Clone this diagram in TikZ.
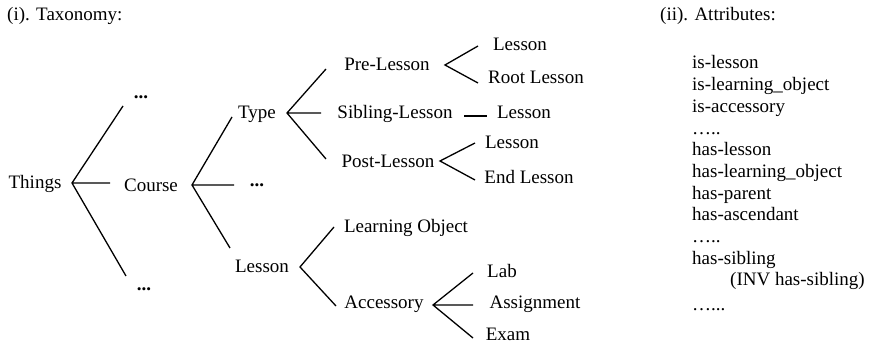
\documentclass[tikz,border=0pt]{standalone}
\usepackage{fontspec}
\setmainfont{Liberation Serif}
\begin{document}
\begin{tikzpicture}[x=1pt,y=-1pt,
  lbl/.style={inner sep=0pt,anchor=base,font=\fontsize{19}{21.7}\selectfont},
  lblw/.style={inner sep=0pt,anchor=base west,font=\fontsize{19}{21.7}\selectfont},
  dts/.style={inner sep=0pt,anchor=base,font=\fontsize{19}{21.7}\selectfont\bfseries},
  br/.style={line width=1.3pt,line cap=butt}]
\useasboundingbox (0,0) rectangle (873,344);
% titles
\node[lblw] (t1) at (7,21) {(i). Taxonomy:};
\node[lblw] (t2) at (660,21) {(ii). Attributes:};
% tree nodes
\node[lbl] (things) at (35,189) {Things};
\node[dts] (dA) at (141,99) {...};
\node[lbl] (course) at (151,192) {Course};
\node[dts] (dB) at (144,291) {...};
\node[lbl] (type) at (257,119) {Type};
\node[dts] (dC) at (257,187) {...};
\node[lbl] (lesson) at (262,273) {Lesson};
\node[lbl] (pre) at (387,71) {Pre-Lesson};
\node[lbl] (sib) at (395,119) {Sibling-Lesson};
\node[lbl] (post) at (388,168) {Post-Lesson};
\node[lbl] (l1) at (520,51) {Lesson};
\node[lbl] (root) at (536,84) {Root Lesson};
\node[lbl] (l2) at (524,119) {Lesson};
\node[lbl] (l3) at (512,149) {Lesson};
\node[lbl] (endl) at (529,184) {End Lesson};
\node[lbl] (lo) at (406,233) {Learning Object};
\node[lbl] (acc) at (384,309) {Accessory};
\node[lbl] (lab) at (502,278) {Lab};
\node[lbl] (asg) at (535,309) {Assignment};
\node[lbl] (exam) at (508,341) {Exam};
% branch coordinates
\coordinate (vThings) at (72,183);
\coordinate (eThingsA) at (123,106);
\coordinate (eThingsB) at (110,183);
\coordinate (eThingsC) at (126,276);
\coordinate (vCourse) at (192,185);
\coordinate (eCourseA) at (232,117);
\coordinate (eCourseB) at (234,185);
\coordinate (eCourseC) at (230,248);
\coordinate (vType) at (287,113);
\coordinate (eTypeA) at (326,69);
\coordinate (eTypeB) at (321,113);
\coordinate (eTypeC) at (326,159);
\coordinate (vPre) at (445,65);
\coordinate (ePreA) at (478,46);
\coordinate (ePreB) at (478,83);
\coordinate (sSib) at (464,116);
\coordinate (eSib) at (487,116);
\coordinate (vPost) at (440,161);
\coordinate (ePostA) at (475,143);
\coordinate (ePostB) at (475,180);
\coordinate (vLes) at (300,267);
\coordinate (eLesA) at (334,227);
\coordinate (eLesB) at (336,306);
\coordinate (vAcc) at (433,305);
\coordinate (eAccA) at (473,273);
\coordinate (eAccB) at (473,305);
\coordinate (eAccC) at (473,338);
\draw[br] (eThingsA) -- (vThings) -- (eThingsC) (vThings) -- (eThingsB);
\draw[br] (eCourseA) -- (vCourse) -- (eCourseC) (vCourse) -- (eCourseB);
\draw[br] (eTypeA) -- (vType) -- (eTypeC) (vType) -- (eTypeB);
\draw[br] (ePreA) -- (vPre) -- (ePreB);
\draw[br] (sSib) -- (eSib);
\draw[br] (ePostA) -- (vPost) -- (ePostB);
\draw[br] (eLesA) -- (vLes) -- (eLesB);
\draw[br] (eAccA) -- (vAcc) -- (eAccC) (vAcc) -- (eAccB);
% attributes
\node[lblw] (a1) at (692,69) {is-lesson};
\node[lblw] (a2) at (692,90.7) {is-learning\_object};
\node[lblw] (a3) at (692,112.4) {is-accessory};
\node[lblw] (a4) at (692,134.1) {…..};
\node[lblw] (a5) at (692,155.8) {has-lesson};
\node[lblw] (a6) at (692,177.5) {has-learning\_object};
\node[lblw] (a7) at (692,199.2) {has-parent};
\node[lblw] (a8) at (692,220.9) {has-ascendant};
\node[lblw] (a9) at (692,242.6) {…..};
\node[lblw] (a10) at (692,264.3) {has-sibling};
\node[lblw] (a11) at (730,286) {(INV has-sibling)};
\node[lblw] (a12) at (692,311) {…...};
\end{tikzpicture}
\end{document}
